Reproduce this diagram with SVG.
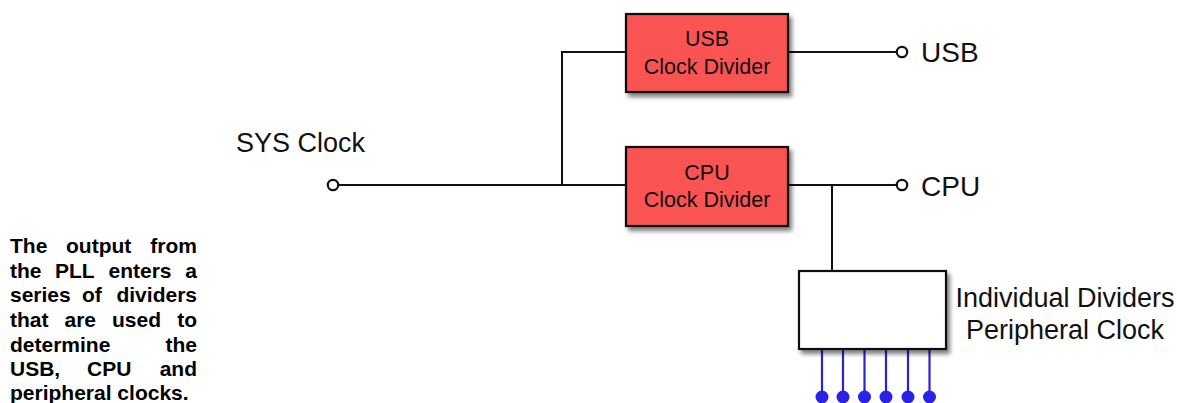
<svg xmlns="http://www.w3.org/2000/svg" width="1177" height="403" viewBox="0 0 1177 403">
<style>
.lbl{font-family:"Liberation Sans",Arial,sans-serif;fill:#111}
.box{font-size:21.5px}
.big{font-size:27px}
.out{font-size:28px}
.desc{font-family:"Liberation Sans",Arial,sans-serif;font-weight:bold;font-size:21px;fill:#000}
.wire{stroke:#111;stroke-width:2;fill:none}
.term{stroke:#111;stroke-width:2.2;fill:#fff}
.blue{stroke:#2a22d8;stroke-width:2.2}
.dot{fill:#2a22e8}
.red{fill:#fa5252;stroke:#111;stroke-width:2.2}
.white{fill:#fff;stroke:#111;stroke-width:2.2}
</style>
<defs>
<filter id="sh" x="-10%" y="-10%" width="130%" height="130%">
<feGaussianBlur in="SourceAlpha" stdDeviation="2"/>
<feOffset dx="3" dy="4" result="b"/>
<feComponentTransfer><feFuncA type="linear" slope="0.5"/></feComponentTransfer>
<feMerge><feMergeNode/><feMergeNode in="SourceGraphic"/></feMerge>
</filter>
</defs>
<rect width="1177" height="403" fill="#fff"/>

<g id="description">
<text class="desc" y="253"><tspan x="10">The</tspan><tspan x="66">output</tspan><tspan x="197" text-anchor="end">from</tspan></text>
<text class="desc" y="278"><tspan x="10">the</tspan><tspan x="55">PLL</tspan><tspan x="108.5">enters</tspan><tspan x="197" text-anchor="end">a</tspan></text>
<text class="desc" y="302"><tspan x="10">series</tspan><tspan x="82">of</tspan><tspan x="197" text-anchor="end">dividers</tspan></text>
<text class="desc" y="327"><tspan x="10">that</tspan><tspan x="64.5">are</tspan><tspan x="112">used</tspan><tspan x="197" text-anchor="end">to</tspan></text>
<text class="desc" y="352"><tspan x="10">determine</tspan><tspan x="197" text-anchor="end">the</tspan></text>
<text class="desc" y="376"><tspan x="10">USB,</tspan><tspan x="87">CPU</tspan><tspan x="197" text-anchor="end">and</tspan></text>
<text class="desc" y="400"><tspan x="10">peripheral clocks.</tspan></text>
</g>

<g id="connectors">
<path class="wire" d="M338 185 H626"/>
<path class="wire" d="M562 185 V52 H626"/>
<path class="wire" d="M788 52 H896"/>
<path class="wire" d="M788 185 H896"/>
<path class="wire" d="M832 185 V271"/>
<g class="blue">
<line x1="822" y1="349" x2="822" y2="396"/>
<line x1="843" y1="349" x2="843" y2="396"/>
<line x1="864.5" y1="349" x2="864.5" y2="396"/>
<line x1="886" y1="349" x2="886" y2="396"/>
<line x1="908" y1="349" x2="908" y2="396"/>
<line x1="929.5" y1="349" x2="929.5" y2="396"/>
</g>
<g class="dot">
<circle cx="822" cy="397" r="6.5"/>
<circle cx="843" cy="397" r="6.5"/>
<circle cx="864.5" cy="397" r="6.5"/>
<circle cx="886" cy="397" r="6.5"/>
<circle cx="908" cy="397" r="6.5"/>
<circle cx="929.5" cy="397" r="6.5"/>
</g>
</g>

<g id="sys-clock">
<circle class="term" cx="333" cy="185" r="5.2"/>
<text class="lbl big" x="236" y="152">SYS Clock</text>
</g>

<g id="usb-divider">
<rect class="red" x="626" y="14" width="162" height="78" filter="url(#sh)"/>
<text class="lbl box" x="707" y="46" text-anchor="middle">USB</text>
<text class="lbl box" x="707" y="74" text-anchor="middle">Clock Divider</text>
</g>

<g id="cpu-divider">
<rect class="red" x="626" y="147" width="162" height="79" filter="url(#sh)"/>
<text class="lbl box" x="707" y="180" text-anchor="middle">CPU</text>
<text class="lbl box" x="707" y="207" text-anchor="middle">Clock Divider</text>
</g>

<g id="usb-out">
<circle class="term" cx="902" cy="52" r="5.2"/>
<text class="lbl out" x="921" y="62">USB</text>
</g>

<g id="cpu-out">
<circle class="term" cx="902" cy="185" r="5.2"/>
<text class="lbl out" x="921" y="196">CPU</text>
</g>

<g id="peripheral">
<rect class="white" x="799" y="271" width="147" height="78" filter="url(#sh)"/>
<text class="lbl big" x="1065" y="307" text-anchor="middle">Individual Dividers</text>
<text class="lbl big" x="1065" y="339" text-anchor="middle">Peripheral Clock</text>
</g>
</svg>
